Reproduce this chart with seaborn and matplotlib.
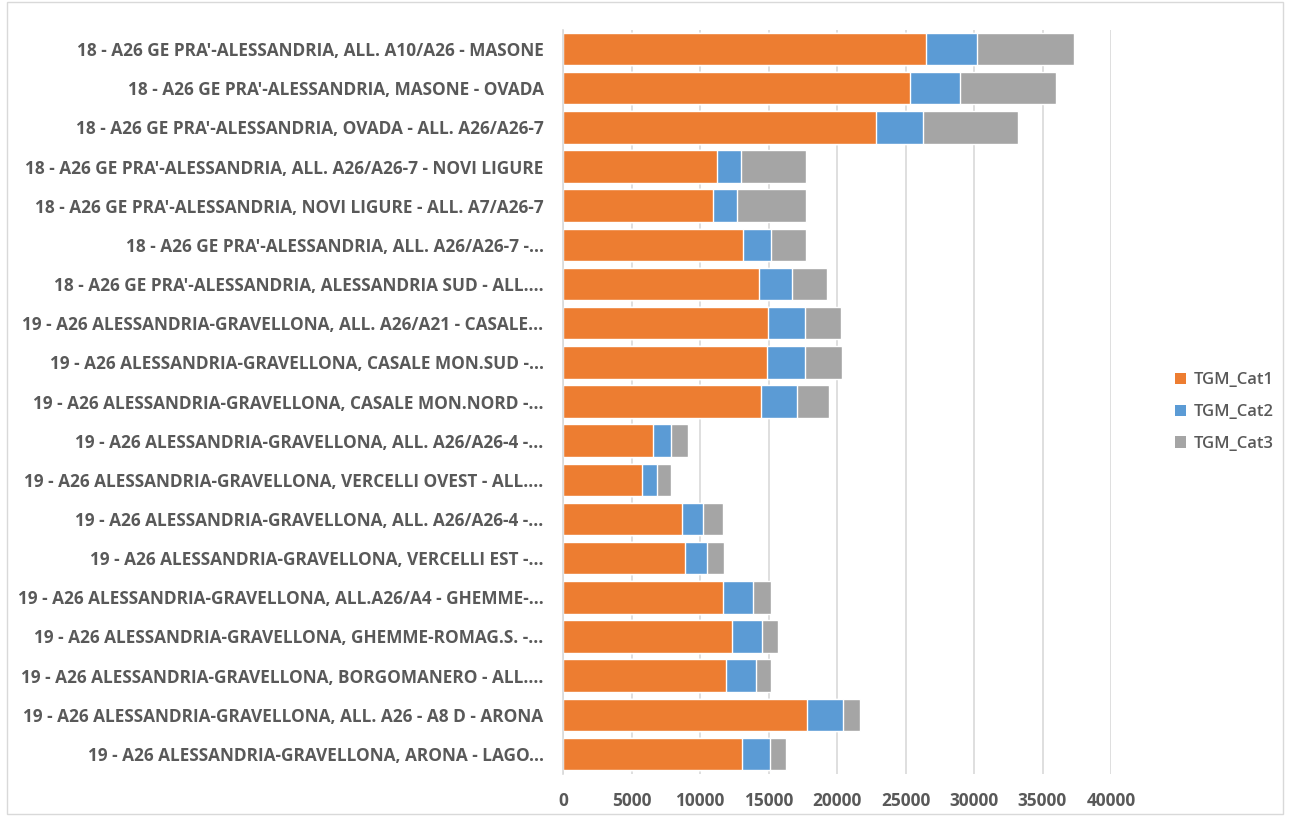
import matplotlib
matplotlib.use("Agg")
import matplotlib.pyplot as plt
import seaborn as sns
import pandas as pd
import numpy as np
from matplotlib.patches import Patch, Rectangle

# Road sections (truncated labels as in the source table)
sections = [
    "18 - A26 GE PRA'-ALESSANDRIA, ALL. A10/A26 - MASONE",
    "18 - A26 GE PRA'-ALESSANDRIA, MASONE - OVADA",
    "18 - A26 GE PRA'-ALESSANDRIA, OVADA - ALL. A26/A26-7",
    "18 - A26 GE PRA'-ALESSANDRIA, ALL. A26/A26-7 - NOVI LIGURE",
    "18 - A26 GE PRA'-ALESSANDRIA, NOVI LIGURE - ALL. A7/A26-7",
    "18 - A26 GE PRA'-ALESSANDRIA, ALL. A26/A26-7 -...",
    "18 - A26 GE PRA'-ALESSANDRIA, ALESSANDRIA SUD - ALL....",
    "19 - A26 ALESSANDRIA-GRAVELLONA, ALL. A26/A21 - CASALE...",
    "19 - A26 ALESSANDRIA-GRAVELLONA, CASALE MON.SUD -...",
    "19 - A26 ALESSANDRIA-GRAVELLONA, CASALE MON.NORD -...",
    "19 - A26 ALESSANDRIA-GRAVELLONA, ALL. A26/A26-4 -...",
    "19 - A26 ALESSANDRIA-GRAVELLONA, VERCELLI OVEST - ALL....",
    "19 - A26 ALESSANDRIA-GRAVELLONA, ALL. A26/A26-4 -...",
    "19 - A26 ALESSANDRIA-GRAVELLONA, VERCELLI EST -...",
    "19 - A26 ALESSANDRIA-GRAVELLONA, ALL.A26/A4 - GHEMME-...",
    "19 - A26 ALESSANDRIA-GRAVELLONA, GHEMME-ROMAG.S. -...",
    "19 - A26 ALESSANDRIA-GRAVELLONA, BORGOMANERO - ALL....",
    "19 - A26 ALESSANDRIA-GRAVELLONA, ALL. A26 - A8 D - ARONA",
    "19 - A26 ALESSANDRIA-GRAVELLONA, ARONA - LAGO...",
]

tgm_cat1 = [26520, 25320, 22850, 11210, 10920, 13160, 14300, 14950, 14900, 14480,
            6580, 5800, 8710, 8920, 11670, 12320, 11930, 17780, 13050]
tgm_cat2 = [3720, 3670, 3460, 1790, 1790, 2020, 2420, 2700, 2750, 2580,
            1270, 1060, 1530, 1610, 2190, 2210, 2140, 2660, 2060]
tgm_cat3 = [7040, 7020, 6920, 4760, 5050, 2530, 2570, 2660, 2730, 2360,
            1300, 990, 1460, 1250, 1320, 1170, 1110, 1270, 1140]

series_names = ["TGM_Cat1", "TGM_Cat2", "TGM_Cat3"]
colors = ["#ED7D31", "#5B9BD5", "#A5A5A5"]
x_ticks = [0, 5000, 10000, 15000, 20000, 25000, 30000, 35000, 40000]

df = pd.DataFrame({
    "row": list(range(len(sections))),
    "section": sections,
    "TGM_Cat1": tgm_cat1,
    "TGM_Cat2": tgm_cat2,
    "TGM_Cat3": tgm_cat3,
})
# cumulative ends for stacking
df["end1"] = df["TGM_Cat1"]
df["end2"] = df["end1"] + df["TGM_Cat2"]
df["end3"] = df["end2"] + df["TGM_Cat3"]

sns.set_theme(style="white")
plt.rcParams["font.family"] = ["Open Sans", "DejaVu Sans"]
text_color = "#595959"

fig = plt.figure(figsize=(12.9, 8.16), dpi=100)
ax = fig.add_axes([563 / 1290, 1 - 773.5 / 816, 548 / 1290, 744 / 816])

# draw from the longest cumulative layer down so each segment shows
for col, color in zip(["end3", "end2", "end1"], colors[::-1]):
    sns.barplot(data=df, y="row", x=col, orient="h", color=color,
                width=0.83, saturation=1, errorbar=None, ax=ax)

ax.set_xlim(0, 40000)
ax.set_xticks(x_ticks)
ax.set_xticklabels([str(t) for t in x_ticks])
ax.set_yticks(range(len(sections)))
ax.set_yticklabels(sections)
ax.set_xlabel("")
ax.set_ylabel("")
ax.set_axisbelow(True)
ax.grid(axis="x", color="#D9D9D9", linewidth=1.2)
ax.grid(axis="y", visible=False)
for side in ["top", "right", "bottom"]:
    ax.spines[side].set_visible(False)
ax.spines["left"].set_color("#D9D9D9")
ax.spines["left"].set_linewidth(1.2)
ax.tick_params(axis="both", length=0, colors=text_color)
ax.tick_params(axis="y", pad=14)
ax.tick_params(axis="x", pad=13)
for lab in ax.get_yticklabels() + ax.get_xticklabels():
    lab.set_fontsize(12.4)
    lab.set_fontweight("bold")
    lab.set_color(text_color)

handles = [Patch(facecolor=c, edgecolor="none", label=n) for c, n in zip(colors, series_names)]
leg = fig.legend(handles=handles, loc="center left", bbox_to_anchor=(1160 / 1290, 1 - 412 / 816),
                 frameon=False, fontsize=12, handlelength=0.65, handleheight=0.65,
                 handletextpad=0.45, labelspacing=0.95)
for t in leg.get_texts():
    t.set_color(text_color)
    t.set_fontweight("semibold")

# thin chart-area border
fig.patches.append(Rectangle((7 / 1290, 2 / 816), 1 - 14 / 1290, 1 - 4 / 816,
                             transform=fig.transFigure, fill=False,
                             edgecolor="#D9D9D9", linewidth=1))

fig.savefig("out.png", dpi=100, facecolor="white")
